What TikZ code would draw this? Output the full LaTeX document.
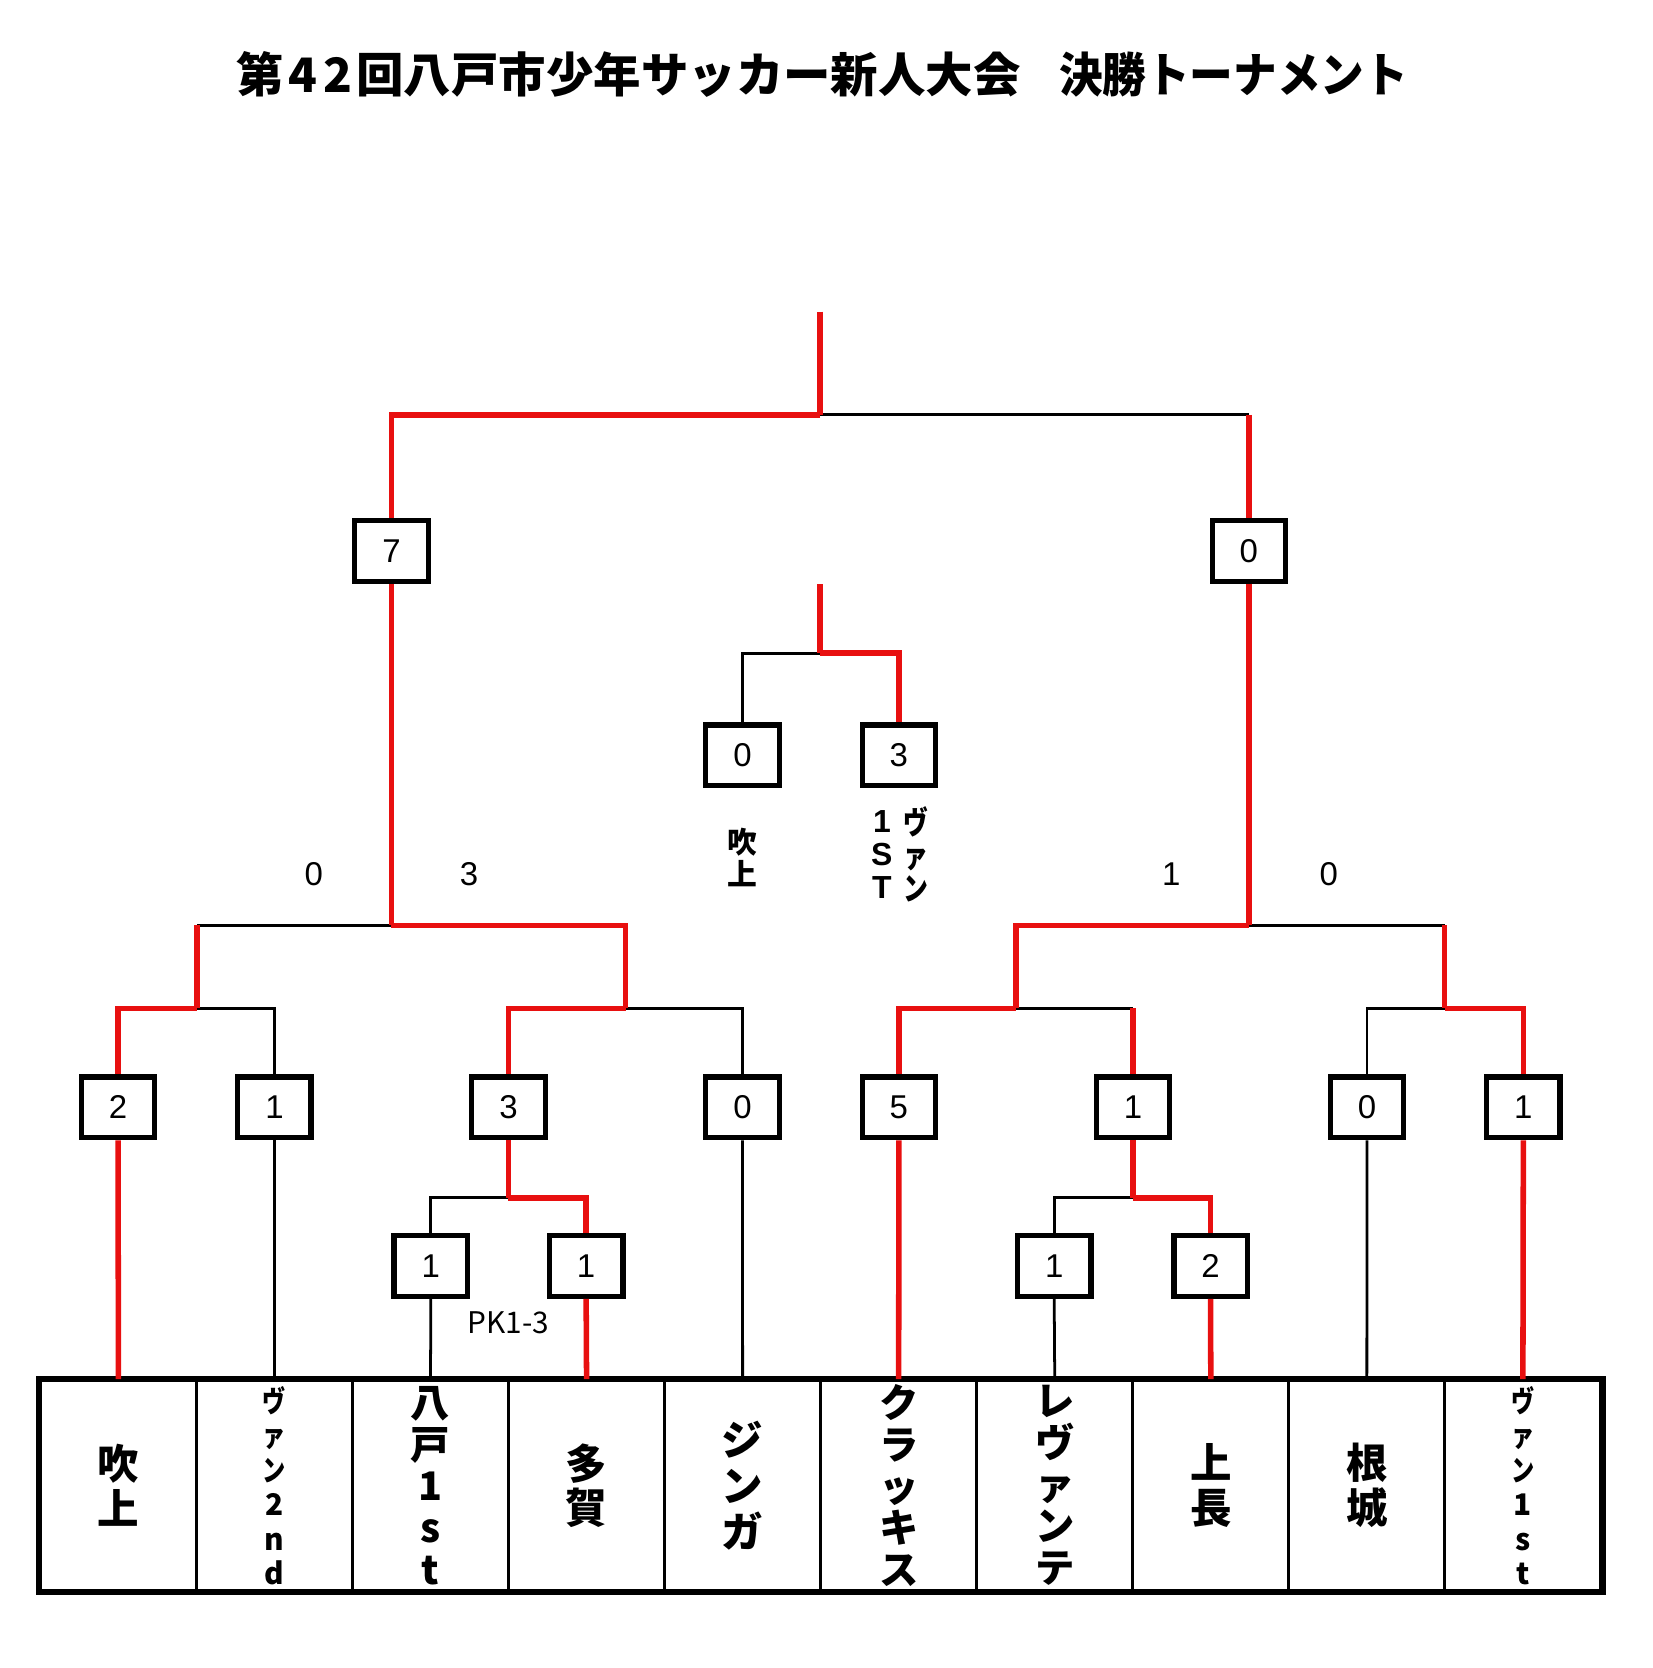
\documentclass[tikz,border=0pt]{standalone}
\usepackage{fontspec}
\usepackage{graphicx}
\setmainfont{Liberation Sans}
\newfontfamily\jp{Noto Sans CJK JP}
\definecolor{wred}{RGB}{232,16,16}
\newcommand\nx[1]{\scalebox{0.78}[1]{#1}}
\begin{document}
\begin{tikzpicture}[x=0.5pt,y=-0.5pt,
  win/.style={draw=wred, line width=2.6pt},
  lose/.style={draw=black, line width=1.3pt},
  scorebox/.style={draw, fill=white, line width=2.5pt, minimum width=34.5pt, minimum height=28.5pt, inner sep=0pt, font=\fontsize{15.5}{15.5}\selectfont},
  scoretxt/.style={inner sep=0pt, font=\fontsize{15.5}{15.5}\selectfont},
  team/.style={draw, line width=1.5pt, minimum width=73.35pt, minimum height=98.5pt, inner sep=0pt, align=center},
  bigname/.style={font=\jp\bfseries\fontsize{19.5}{21}\selectfont},
  midname/.style={font=\jp\bfseries\fontsize{18.5}{19.6}\selectfont},
  smallname/.style={font=\jp\bfseries\fontsize{14}{16.2}\selectfont},
  lbl/.style={inner sep=0pt, align=center, font=\jp\bfseries\fontsize{14}{15.3}\selectfont}
]
\useasboundingbox (0,0) rectangle (1553,1568);

% title
\node[inner sep=0pt, font=\jp\bfseries\fontsize{22.3}{26}\selectfont] (title) at (773,70)
  {第\hspace{2pt}4\hspace{3pt}2\hspace{2pt}回八戸市少年サッカー新人大会\hspace{18pt}\scalebox{0.92}[1]{決勝トーナメント}};

% team cells
\node[team, bigname] (c1) at (111.3,1396.5) {吹\\上};
\node[team, smallname] (c2) at (258,1396.5) {\nx{ヴ}\\\nx{ァ}\\\nx{ン}\\2\\n\\d};
\node[team, midname] (c3) at (404.7,1396.5) {八\\戸\\1\\s\\t};
\node[team, bigname] (c4) at (551.4,1396.5) {多\\賀};
\node[team, font=\jp\bfseries\fontsize{19.5}{21.5}\selectfont] (c5) at (698.1,1396.5) {ジ\\ン\\ガ};
\node[team, midname] (c6) at (844.8,1396.5) {ク\\ラ\\ッ\\キ\\ス};
\node[team, midname] (c7) at (991.5,1396.5) {レ\\ヴ\\ァ\\ン\\テ};
\node[team, bigname] (c8) at (1138.2,1396.5) {上\\長};
\node[team, bigname] (c9) at (1284.9,1396.5) {根\\城};
\node[team, smallname] (c10) at (1431.6,1396.5) {\nx{ヴ}\\\nx{ァ}\\\nx{ン}\\1\\s\\t};
\draw[line width=3pt] (c1.north west) rectangle (c10.south east);

% score boxes
\node[scorebox] (f7) at (368,518) {7};
\node[scorebox] (f0) at (1174,518) {0};
\node[scorebox] (t0) at (698,710) {0};
\node[scorebox] (t3) at (845,710) {3};
\node[scorebox] (q1) at (111,1041) {2};
\node[scorebox] (q2) at (258,1041) {1};
\node[scorebox] (q3) at (478,1041) {3};
\node[scorebox] (q4) at (698,1041) {0};
\node[scorebox] (q5) at (845,1041) {5};
\node[scorebox] (q6) at (1065,1041) {1};
\node[scorebox] (q7) at (1285,1041) {0};
\node[scorebox] (q8) at (1432,1041) {1};
\node[scorebox] (r1) at (405,1190) {1};
\node[scorebox] (r2) at (551,1190) {1};
\node[scorebox] (r3) at (991,1190) {1};
\node[scorebox] (r4) at (1138,1190) {2};

% score texts
\node[scoretxt] (s1) at (295,822) {0};
\node[scoretxt] (s2) at (441,822) {3};
\node[scoretxt] (s3) at (1101,822) {1};
\node[scoretxt] (s4) at (1249,822) {0};
\node[inner sep=0pt, font=\jp\fontsize{14}{14}\selectfont] (pk) at (478,1243) {PK1-3};

% third place labels
\node[lbl] (l1) at (698,806) {吹\\上};
\node[lbl, font=\bfseries\fontsize{15}{15.5}\selectfont] (l2) at (829,803) {1\\S\\T};
\node[lbl, font=\jp\bfseries\fontsize{15}{15.5}\selectfont] (l3) at (861,803) {\nx{ヴ}\\\nx{ァ}\\\nx{ン}};

% coordinates
\coordinate (top) at (771,293);
\coordinate (jF) at (771,390);
\coordinate (cF0) at (1174,390);
\coordinate (jL) at (368,870);
\coordinate (cLa) at (185,870);
\coordinate (jLa) at (185,948);
\coordinate (jLb) at (588,948);
\coordinate (jR) at (1174,870);
\coordinate (jRa) at (955,948);
\coordinate (cR6) at (1065,948);
\coordinate (cRb) at (1358,870);
\coordinate (jRb) at (1358,948);
\coordinate (jP) at (478,1126);
\coordinate (jQ) at (1065,1126);
\coordinate (top3) at (771,549);
\coordinate (j3) at (771,614);

% losing paths (black)
\draw[lose] (jF) -- (cF0);
\draw[lose] (jL) -- (cLa);
\draw[lose] (jLa) -| (q2.north);
\draw[lose] (jLb) -| (q4.north);
\draw[lose] (jRa) -- (cR6);
\draw[lose] (jR) -- (cRb);
\draw[lose] (jRb) -| (q7.north);
\draw[lose] (jP) -| (r1.north);
\draw[lose] (jQ) -| (r3.north);
\draw[lose] (r1.south) -- (c3.north);
\draw[lose] (r3.south) -- (c7.north);
\draw[lose] (q2.south) -- (c2.north);
\draw[lose] (q4.south) -- (c5.north);
\draw[lose] (q7.south) -- (c9.north);
\draw[lose] (j3) -| (t0.north);

% winning paths (red)
\draw[win] (top) -- (jF);
\draw[win] (jF) -| (f7.north);
\draw[win] (cF0) -- (f0.north);
\draw[win] (f7.south) -- (jL);
\draw[win] (cLa) -- (jLa);
\draw[win] (jLa) -| (q1.north);
\draw[win] (jL) -| (jLb);
\draw[win] (jLb) -| (q3.north);
\draw[win] (f0.south) -- (jR);
\draw[win] (jR) -| (jRa);
\draw[win] (jRa) -| (q5.north);
\draw[win] (cR6) -- (q6.north);
\draw[win] (cRb) -- (jRb);
\draw[win] (jRb) -| (q8.north);
\draw[win] (q3.south) -- (jP);
\draw[win] (jP) -| (r2.north);
\draw[win] (r2.south) -- (c4.north);
\draw[win] (q6.south) -- (jQ);
\draw[win] (jQ) -| (r4.north);
\draw[win] (r4.south) -- (c8.north);
\draw[win] (q1.south) -- (c1.north);
\draw[win] (q5.south) -- (c6.north);
\draw[win] (q8.south) -- (c10.north);
\draw[win] (top3) -- (j3);
\draw[win] (j3) -| (t3.north);
\end{tikzpicture}
\end{document}
